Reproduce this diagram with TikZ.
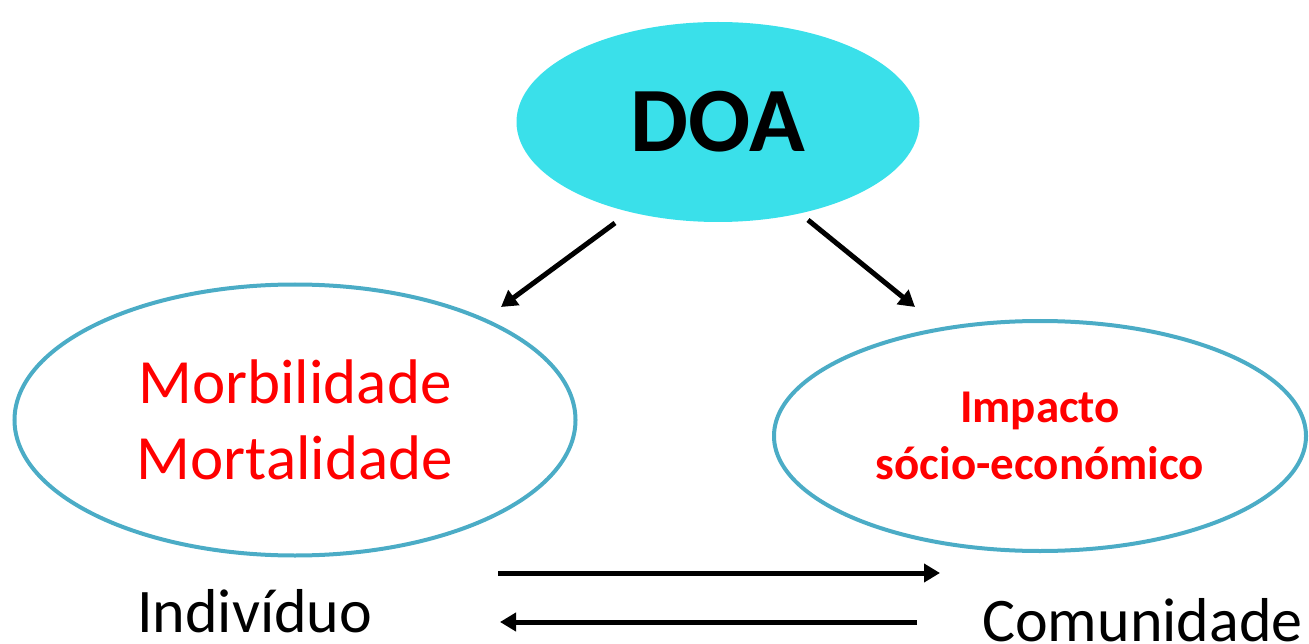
\documentclass[tikz,border=0pt]{standalone}
\usepackage{fontspec}
\setmainfont{Carlito}
\usetikzlibrary{arrows.meta,shapes.geometric}
\definecolor{doacyan}{RGB}{58,224,234}
\definecolor{ringblue}{RGB}{75,172,198}

\begin{document}
\begin{tikzpicture}[x=1pt,y=-1pt,
		bubble/.style={ellipse,draw=ringblue,line width=4pt,inner sep=0pt,align=center,text=red},
		arr/.style={line width=5pt,-{Triangle[length=16pt,width=18pt]}},
		word/.style={anchor=base west,inner sep=0pt,font=\fontsize{62}{70}\selectfont}]
		%%%%% START %%%%%
		\useasboundingbox (0,0) rectangle (1309,644);
		
		\node[ellipse,fill=doacyan,minimum width=403pt,minimum height=200pt,inner sep=0pt,
			font=\fontsize{92}{100}\selectfont\bfseries] (doa) at (718,122) {DOA};
		
		\node[bubble,minimum width=561pt,minimum height=271pt,
			font=\fontsize{63}{76}\selectfont] (morb) at (295,420) {Morbilidade\\Mortalidade};
		\node[bubble,minimum width=532pt,minimum height=230pt,
			font=\fontsize{47}{57}\selectfont\bfseries] (impacto) at (1040,436) {Impacto\\sócio-económico};
		
		\node[word] (indiv) at (137,632) {Indivíduo};
		\node[word] (comun) at (982,641) {Comunidade};
		
		% arrow ends
		\coordinate (doaL) at (615,223);
		\coordinate (morbT) at (501,307);
		\coordinate (doaR) at (808,220);
		\coordinate (impT) at (915,307);
		\coordinate (indivA) at (498,573);
		\coordinate (comunA) at (940,573);
		\coordinate (comunB) at (917,622);
		\coordinate (indivB) at (500,622);
		
		\draw[arr] (doaL) -- (morbT);
		\draw[arr] (doaR) -- (impT);
		\draw[arr] (indivA) -- (comunA);
		\draw[arr] (comunB) -- (indivB);
		%%%%% END %%%%%
\end{tikzpicture}
\end{document}
